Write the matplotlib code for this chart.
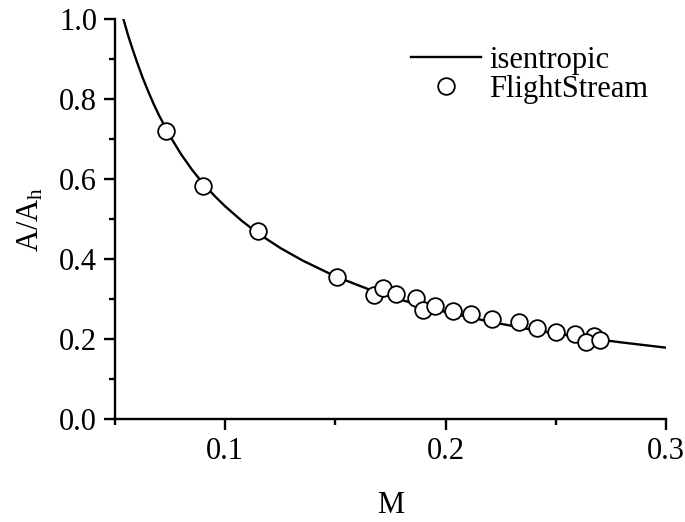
import matplotlib
matplotlib.use("Agg")
import matplotlib.pyplot as plt
from matplotlib.ticker import MultipleLocator

plt.rcParams['font.family'] = ['Liberation Serif', 'DejaVu Serif']
plt.rcParams['mathtext.fontset'] = 'custom'
plt.rcParams['mathtext.rm'] = 'Liberation Serif'
plt.rcParams['mathtext.it'] = 'Liberation Serif:italic'

# isentropic area ratio curve
mach_curve = [0.0538, 0.0560, 0.0580, 0.0600, 0.0625, 0.0650, 0.0675, 0.0700,
              0.0750, 0.0800, 0.0850, 0.0900, 0.0950, 0.1000, 0.1075, 0.1150,
              0.1250, 0.1350, 0.1500, 0.1650, 0.1800, 0.2000, 0.2200, 0.2400,
              0.2600, 0.2800, 0.3000]
area_curve = [1.000, 0.958, 0.924, 0.892, 0.854, 0.820, 0.788, 0.759,
              0.707, 0.662, 0.623, 0.589, 0.559, 0.532, 0.496, 0.464,
              0.428, 0.397, 0.357, 0.325, 0.298, 0.268, 0.244, 0.223,
              0.206, 0.192, 0.179]

# FlightStream results
mach_fs = [0.0732, 0.0897, 0.1150, 0.1509, 0.1677, 0.1717, 0.1773, 0.1864,
           0.1898, 0.1951, 0.2034, 0.2114, 0.2212, 0.2332, 0.2414, 0.2501,
           0.2589, 0.2671, 0.2636, 0.2701]
area_fs = [0.721, 0.583, 0.471, 0.356, 0.311, 0.327, 0.313, 0.3025,
           0.272, 0.284, 0.270, 0.263, 0.251, 0.244, 0.229, 0.2175,
           0.2125, 0.208, 0.194, 0.198]

fig = plt.figure(figsize=(6.85, 5.22), dpi=100)
ax = fig.add_axes([0.1679, 0.1967, 0.8044, 0.7669])

ax.plot(mach_curve, area_curve, color='black', lw=1.7, label='isentropic')
ax.plot(mach_fs, area_fs, 'o', ms=12, mfc='white', mec='black', mew=1.3,
        label='FlightStream')

ax.set_xlim(0.05, 0.3)
ax.set_ylim(0.0, 1.0)
ax.xaxis.set_major_locator(MultipleLocator(0.1))
ax.xaxis.set_minor_locator(MultipleLocator(0.05))
ax.yaxis.set_major_locator(MultipleLocator(0.2))
ax.yaxis.set_minor_locator(MultipleLocator(0.1))
ax.xaxis.set_major_formatter(plt.FormatStrFormatter('%.1f'))
ax.yaxis.set_major_formatter(plt.FormatStrFormatter('%.1f'))

for side in ['top', 'right']:
    ax.spines[side].set_visible(False)
for side in ['left', 'bottom']:
    ax.spines[side].set_linewidth(1.7)

ax.tick_params(which='major', direction='out', length=8, width=1.7,
               labelsize=22, pad=5)
ax.tick_params(which='minor', direction='out', length=4, width=1.7)

ax.set_xlabel('M', fontsize=22, labelpad=18)
ax.set_ylabel(r'A/A$_\mathrm{h}$', fontsize=22, labelpad=10)

ax.legend(loc='upper left', bbox_to_anchor=(411 / 685, 1 - 46 / 522),
          bbox_transform=fig.transFigure, frameon=False,
          fontsize=22, handlelength=2.3, handletextpad=0.25,
          labelspacing=0.0, borderaxespad=0, borderpad=0)

fig.savefig('out.png', dpi=100)
